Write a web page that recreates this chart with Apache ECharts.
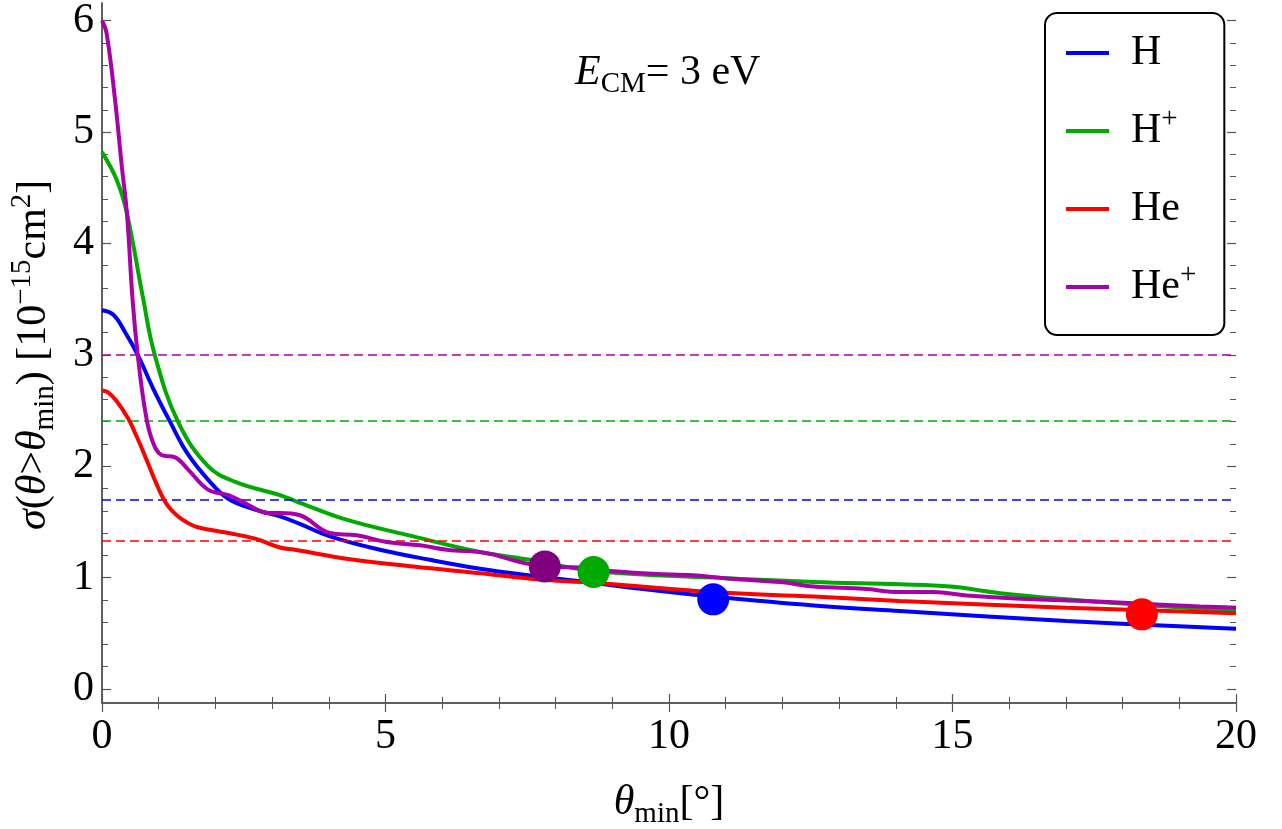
<!DOCTYPE html>
<html><head><meta charset="utf-8">
<script src="https://cdn.jsdelivr.net/npm/echarts@6/dist/echarts.min.js"></script>
<style>html,body{margin:0;padding:0;background:#fff}#c{width:1282px;height:829px}</style>
</head><body><div id="c"></div>
<script>
// ---- data ----
const seriesNames = ['H', 'H+', 'He', 'He+'];
const xTicks = [0, 5, 10, 15, 20];
const yTicks = [0, 1, 2, 3, 4, 5, 6];

const hX = [0, 0.2, 0.4, 0.63, 0.9, 1.2, 1.5, 1.87, 2.22, 2.7, 3.14, 3.5, 4.02, 4.9, 5.78, 6.67, 7.55, 8.4, 9.5, 10.78, 12.55, 14.07, 17.01, 20];
const hY = [3.40, 3.36, 3.21, 3.00, 2.70, 2.40, 2.12, 1.88, 1.71, 1.61, 1.55, 1.48, 1.37, 1.25, 1.16, 1.08, 1.02, 0.97, 0.90, 0.83, 0.75, 0.70, 0.61, 0.54];

const hpX = [0, 0.26, 0.44, 0.72, 0.93, 1.34, 1.87, 2.35, 3.14, 3.4, 4.31, 5.49, 6.67, 7.55, 8.67, 10.78, 12.55, 14.07, 14.96, 15.84, 17.01, 18.19, 20];
const hpY = [4.82, 4.57, 4.27, 3.52, 3.00, 2.40, 2.00, 1.86, 1.74, 1.69, 1.52, 1.37, 1.23, 1.16, 1.06, 1.00, 0.96, 0.94, 0.92, 0.86, 0.805, 0.76, 0.70];

const heX = [0, 0.1, 0.25, 0.46, 0.6, 0.76, 0.92, 1.08, 1.2, 1.34, 1.45, 1.64, 1.9, 2.23, 2.7, 3.14, 3.4, 4.31, 5.49, 6.67, 7.8, 8.78, 10.78, 12.55, 14.07, 17.01, 20];
const heY = [2.68, 2.665, 2.59, 2.43, 2.28, 2.09, 1.89, 1.71, 1.62, 1.55, 1.51, 1.46, 1.43, 1.40, 1.35, 1.27, 1.25, 1.17, 1.10, 1.04, 0.98, 0.95, 0.87, 0.83, 0.79, 0.73, 0.68];

const hepX = [0, 0.08, 0.23, 0.35, 0.44, 0.54, 0.63, 0.76, 0.88, 1.05, 1.29, 1.52, 1.87, 2.23, 2.52, 2.93, 3.14, 3.49, 4.02, 4.49, 5.02, 5.61, 6.08, 6.78, 7.37, 7.81, 8.43, 8.96, 9.9, 10.49, 11.08, 11.96, 12.55, 13.43, 14.07, 14.66, 15.25, 16.43, 17.31, 18.19, 19.37, 20];
const hepY = [6.00, 5.89, 5.29, 4.69, 4.27, 3.49, 3.00, 2.50, 2.24, 2.10, 2.08, 1.97, 1.79, 1.74, 1.67, 1.58, 1.58, 1.56, 1.40, 1.38, 1.32, 1.29, 1.25, 1.22, 1.14, 1.10, 1.09, 1.06, 1.03, 1.02, 0.99, 0.96, 0.92, 0.90, 0.87, 0.87, 0.84, 0.805, 0.79, 0.77, 0.74, 0.73];

const dashedLevels = [1.70, 2.41, 1.33, 3.00];
const markerX = [10.78, 8.67, 18.34, 7.81];
const markerY = [0.805, 1.05, 0.67, 1.10];

// ---- styles ----
const lineColors = ['#0000ff', '#00aa00', '#ff0000', '#aa00aa'];
const dotColors = ['#0000ff', '#00aa00', '#ff0000', '#800080'];
const FONT = "'Liberation Serif', 'Times New Roman', serif";
const FS = 42;
const axisGray = '#555';

const zip = (xs, ys) => xs.map((x, i) => [x, ys[i]]);
const curves = [zip(hX, hY), zip(hpX, hpY), zip(heX, heY), zip(hepX, hepY)];

const base = { fontFamily: FONT, color: '#000', fontWeight: 'normal' };
const rich = {
  n: Object.assign({}, base, { fontSize: FS, lineHeight: 52 }),
  t: Object.assign({}, base, { fontSize: FS, lineHeight: 42 }),
  i: Object.assign({}, base, { fontSize: FS, fontStyle: 'italic', lineHeight: 52 }),
  sup: Object.assign({}, base, { fontSize: 29, lineHeight: 30, verticalAlign: 'top' }),
  sub: Object.assign({}, base, { fontSize: 29, lineHeight: 30, verticalAlign: 'bottom' })
};

const legendLabel = {
  'H': '{n|H}',
  'H+': '{n|H}{sup|+}',
  'He': '{n|He}',
  'He+': '{n|He}{sup|+}'
};

const series = [];
curves.forEach((d, k) => {
  series.push({
    name: seriesNames[k], type: 'line', xAxisIndex: 0, yAxisIndex: 0,
    data: d, showSymbol: false, smooth: 0.4, clip: false,
    lineStyle: { color: lineColors[k], width: 4 }, itemStyle: { color: lineColors[k] },
    z: 3 + k,
    markLine: {
      silent: true, symbol: 'none', label: { show: false }, animation: false,
      lineStyle: { color: lineColors[k], type: [9, 5], width: 1.7 },
      data: [{ yAxis: dashedLevels[k] }]
    }
  });
});
seriesNames.forEach((nm, k) => {
  series.push({
    name: nm + ' point', type: 'scatter', xAxisIndex: 0, yAxisIndex: 0,
    data: [[markerX[k], markerY[k]]], symbolSize: 32, z: 20,
    itemStyle: { color: dotColors[k], opacity: 1 }
  });
});

const tickLabel = (margin) => ({
  margin: margin, fontFamily: FONT, fontSize: FS, color: '#000',
  formatter: v => '{t|' + v + '}', rich: rich
});

const option = {
  animation: false,
  backgroundColor: '#fff',
  textStyle: { fontFamily: FONT, fontWeight: 'normal' },
  title: {
    text: '{i|E}{sub|CM}{n|= 3 eV}',
    left: 570, top: 42,
    textStyle: { fontFamily: FONT, fontWeight: 'normal', rich: rich }
  },
  legend: {
    data: seriesNames,
    orient: 'vertical', left: 1045, top: 13,
    icon: 'rect', itemWidth: 43, itemHeight: 4, itemGap: 26,
    padding: [14, 28, 22, 21],
    borderColor: '#000', borderWidth: 2, borderRadius: 12, backgroundColor: '#fff',
    formatter: nm => legendLabel[nm],
    textStyle: { fontFamily: FONT, padding: [0, 0, 0, 17], rich: rich, lineHeight: 52 },
    selectedMode: false
  },
  grid: [
    { left: 102, right: 46, top: 20.7, bottom: 140, containLabel: false, outerBoundsMode: 'none' },
    { left: 102, right: 46, top: 3, bottom: 126, containLabel: false, outerBoundsMode: 'none' }
  ],
  xAxis: [
    { type: 'value', gridIndex: 0, min: xTicks[0], max: xTicks[xTicks.length - 1], show: false },
    {
      type: 'value', gridIndex: 1, position: 'bottom', min: xTicks[0], max: xTicks[xTicks.length - 1], interval: 5,
      axisLine: { show: true, lineStyle: { color: axisGray, width: 1.5 } },
      axisTick: { show: true, inside: true, length: 9, lineStyle: { color: axisGray, width: 1.2 } },
      minorTick: { show: true, splitNumber: 5, length: 6, lineStyle: { color: axisGray, width: 1 } },
      splitLine: { show: false },
      axisLabel: tickLabel(13),
      name: '{i|θ}{sub|min}{n|[°]}', nameLocation: 'middle', nameGap: 74,
      nameTextStyle: { fontFamily: FONT, rich: rich }
    },
    {
      type: 'value', gridIndex: 1, position: 'top', min: xTicks[0], max: xTicks[xTicks.length - 1], interval: 5,
      axisLine: { show: true, lineStyle: { color: axisGray, width: 1.5 } },
      axisTick: { show: true, inside: true, length: 9, lineStyle: { color: axisGray, width: 1.2 } },
      minorTick: { show: true, splitNumber: 5, length: 6, lineStyle: { color: axisGray, width: 1 } },
      splitLine: { show: false }, axisLabel: { show: false }
    }
  ],
  yAxis: [
    {
      type: 'value', gridIndex: 0, position: 'left', min: yTicks[0], max: yTicks[yTicks.length - 1], interval: 1,
      axisLine: { show: false },
      axisTick: { show: true, inside: true, length: 9, lineStyle: { color: axisGray, width: 1.2 } },
      minorTick: { show: true, splitNumber: 5, length: 6, lineStyle: { color: axisGray, width: 1 } },
      splitLine: { show: false },
      axisLabel: tickLabel(8),
      name: '{i|σ}{n|(}{i|θ}{n|>}{i|θ}{sub|min}{n|) [10}{sup|−15}{n|cm}{sup|2}{n|]}',
      nameLocation: 'middle', nameGap: 42, nameRotate: 90,
      nameTextStyle: { fontFamily: FONT, rich: rich }
    },
    {
      type: 'value', gridIndex: 0, position: 'right', min: yTicks[0], max: yTicks[yTicks.length - 1], interval: 1,
      axisLine: { show: false },
      axisTick: { show: true, inside: true, length: 9, lineStyle: { color: axisGray, width: 1.2 } },
      minorTick: { show: true, splitNumber: 5, length: 6, lineStyle: { color: axisGray, width: 1 } },
      splitLine: { show: false }, axisLabel: { show: false }
    },
    {
      type: 'value', gridIndex: 1, position: 'left', min: 0, max: 1,
      axisLine: { show: true, lineStyle: { color: axisGray, width: 1.5 } },
      axisTick: { show: false }, axisLabel: { show: false }, splitLine: { show: false }
    },
    {
      type: 'value', gridIndex: 1, position: 'right', min: 0, max: 1,
      axisLine: { show: true, lineStyle: { color: axisGray, width: 1.5 } },
      axisTick: { show: false }, axisLabel: { show: false }, splitLine: { show: false }
    }
  ],
  series: series
};
const chart = echarts.init(document.getElementById('c'), null, { renderer: 'canvas' });
chart.setOption(option);
</script></body></html>
